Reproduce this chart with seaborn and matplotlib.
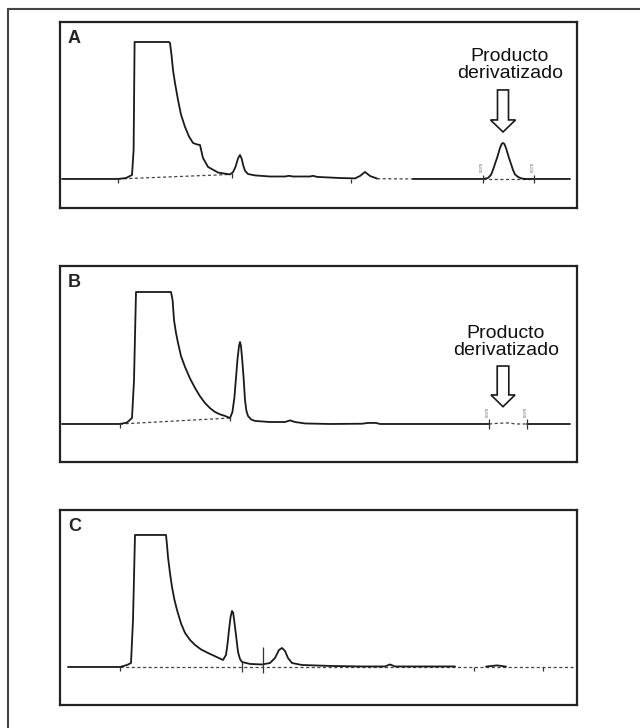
import pandas as pd
import matplotlib.pyplot as plt
import seaborn as sns
from matplotlib.patches import FancyArrow
from matplotlib.lines import Line2D

sns.set_style("white")
plt.rcParams["font.family"] = ["Liberation Sans", "DejaVu Sans"]

# Chromatogram A (time in arbitrary min units, signal in % of saturated peak)
time_a = [0.1, 2.9, 3.3, 3.6, 3.68, 3.73, 5.45, 5.5, 5.58, 5.65, 5.75, 5.9, 6.05, 6.25, 6.45,
          6.65, 6.85, 7.0, 7.15, 7.4, 7.9, 8.5, 8.65, 8.78, 8.9, 9.0, 9.08, 9.16, 9.25, 9.4,
          9.75, 10.5, 11.25, 11.45, 11.65, 12.5, 12.65, 12.85, 14.0, 14.75, 15.0, 15.25, 15.5, 15.85,
          17.65, 19.0, 21.15, 21.4, 21.55, 21.65, 21.75, 21.85, 22.0, 22.08, 22.15, 22.22, 22.3,
          22.45, 22.55, 22.65, 22.75, 22.9, 23.05, 23.25, 25.5]
signal_a = [0, 0, 0.7, 2.9, 21, 100, 100, 99.3, 90, 79.6, 70, 57.7, 47, 38, 31,
            26.3, 25.2, 24.8, 15.3, 8.8, 4.7, 3.3, 5.0, 9, 15, 17.5, 15, 10, 6, 3.6,
            2.6, 1.8, 1.8, 2.3, 1.8, 1.8, 2.3, 1.5, 0.7, 0.4, 2.2, 5.1, 2.2, 0.3,
            0, 0, 0, 0.7, 3, 6.6, 11, 15.3, 22.6, 25.5, 26.3, 25.5, 22.6,
            15.3, 11, 6.6, 3.3, 1.5, 0.5, 0, 0]
segment_a = [0] * 44 + [1] * 21
dash_time_a = [2.9, 8.5, 15.85, 17.65, 21.15, 23.7]
dash_signal_a = [0, 3.3, 0.2, 0, 0, 0]
dash_seg_a = [0, 0, 1, 1, 2, 2]
ticks_a = [2.9, 8.6, 14.55, 21.15, 23.7]
tick_lo_a = [-3, 1, -3, -3, -3]
tick_hi_a = [0, 4.5, 0, 3, 3]
marks_a = [21.15, 23.7]

# Chromatogram B
time_b = [0.1, 3.0, 3.35, 3.6, 3.7, 3.8, 5.55, 5.63, 5.7, 5.8, 5.9, 6.05, 6.25, 6.5, 6.75,
          7.0, 7.25, 7.5, 7.75, 8.0, 8.25, 8.5, 8.62, 8.72, 8.8, 8.88, 8.95, 9.0, 9.05, 9.12,
          9.18, 9.25, 9.32, 9.4, 9.55, 9.75, 10.5, 11.25, 11.5, 11.75, 12.25, 13.5, 15.1, 15.4,
          15.8, 16.0, 21.45, 23.35, 25.5]
signal_b = [0, 0, 1.1, 4.5, 33, 100, 100, 93.9, 78.8, 69, 61.4, 51.5, 43.2, 34.5, 27.3,
            21, 15.9, 12, 9.1, 7.3, 6.1, 4.5, 9, 20, 35, 50, 59, 62.1, 59, 47,
            35, 18.2, 10, 6.1, 3.5, 2.3, 1.5, 1.5, 2.7, 1.5, 0.4, 0, 0.2, 0.8,
            0.8, 0, 0, 0, 0]
segment_b = [0] * 47 + [1] * 2
dash_time_b = [3.0, 8.5, 21.45, 22.0, 22.4, 22.8, 23.35]
dash_signal_b = [0, 4.5, 0, 0.6, 0.8, 0, 0]
dash_seg_b = [0, 0, 1, 1, 1, 1, 1]
ticks_b = [3.0, 8.5, 21.45, 23.35]
tick_lo_b = [-3, 2.5, -4, -4]
tick_hi_b = [0, 6, 4, 4]
marks_b = [21.45, 23.35]

# Chromatogram C
time_c = [0.4, 3.0, 3.35, 3.55, 3.65, 3.75, 5.3, 5.35, 5.4, 5.5, 5.6, 5.72, 5.85, 6.05, 6.25,
          6.5, 6.75, 7.05, 7.4, 7.8, 8.15, 8.3, 8.38, 8.45, 8.53, 8.6, 8.66, 8.72, 8.8, 8.9,
          9.0, 9.1, 9.5, 10.1, 10.5, 10.75, 10.95, 11.1, 11.25, 11.4, 11.6, 12.1, 13.5, 15.0,
          16.25, 16.5, 16.75, 19.75, 21.3, 21.85, 22.3]
signal_c = [0, 0, 1.5, 3.0, 35.6, 100, 100, 92.4, 83.3, 71, 60.6, 51, 43.2, 33, 25.8,
            20.5, 16.7, 13.3, 10.6, 7.8, 5.3, 9.1, 18, 28, 38, 42.4, 41, 34, 24.2, 11.4,
            6, 3.8, 2.3, 1.9, 3.0, 6.8, 12.9, 14.4, 12.1, 6.8, 3.0, 1.5, 0.8, 0.4,
            0.4, 1.9, 0.4, 0.4, 0.3, 1.2, 0.3]
segment_c = [0] * 48 + [1] * 3
dash_time_c = [3.0, 25.85]
dash_signal_c = [0, 0]
dash_seg_c = [0, 0]
ticks_c = [3.0, 9.1, 10.15, 20.7, 24.15]
tick_lo_c = [-3, -3.8, -4.5, -3, -3]
tick_hi_c = [0, 3.8, 15.2, 0, 0]
marks_c = []

panels = [
    dict(label="A", t=time_a, s=signal_a, seg=segment_a, dt=dash_time_a, ds=dash_signal_a,
         dseg=dash_seg_a, ticks=ticks_a, lo=tick_lo_a, hi=tick_hi_a, marks=marks_a,
         rect=[60 / 640, 1 - 208 / 728, 517 / 640, 186 / 728], ylim=(-21.2, 114.6),
         arrow=(22.15, 65, 30.7, 0.55, 1.25, 8.8), text=(22.5, 83.2)),
    dict(label="B", t=time_b, s=signal_b, seg=segment_b, dt=dash_time_b, ds=dash_signal_b,
         dseg=dash_seg_b, ticks=ticks_b, lo=tick_lo_b, hi=tick_hi_b, marks=marks_b,
         rect=[60 / 640, 1 - 462 / 728, 517 / 640, 196 / 728], ylim=(-28.8, 119.7),
         arrow=(22.15, 43.9, 30.8, 0.58, 1.2, 8.9), text=(22.3, 62.1)),
    dict(label="C", t=time_c, s=signal_c, seg=segment_c, dt=dash_time_c, ds=dash_signal_c,
         dseg=dash_seg_c, ticks=ticks_c, lo=tick_lo_c, hi=tick_hi_c, marks=marks_c,
         rect=[60 / 640, 1 - 705 / 728, 517 / 640, 195 / 728], ylim=(-28.8, 118.9),
         arrow=None, text=None),
]

fig = plt.figure(figsize=(6.4, 7.28), dpi=100)

# outer frame (top and left edges only)
fig.add_artist(Line2D([8 / 640, 1], [1 - 9 / 728, 1 - 9 / 728], transform=fig.transFigure,
                      color="#444444", lw=1.5))
fig.add_artist(Line2D([8 / 640, 8 / 640], [0, 1 - 9 / 728], transform=fig.transFigure,
                      color="#444444", lw=1.5))

for p in panels:
    ax = fig.add_axes(p["rect"])
    trace = pd.DataFrame({"t": p["t"], "s": p["s"], "seg": p["seg"]})
    base = pd.DataFrame({"t": p["dt"], "s": p["ds"], "seg": p["dseg"]})
    sns.lineplot(data=base, x="t", y="s", units="seg", estimator=None, sort=False,
                 color="#444444", lw=0.9, linestyle=(0, (2.5, 2)), ax=ax)
    sns.lineplot(data=trace, x="t", y="s", units="seg", estimator=None, sort=False,
                 color="#1a1a1a", lw=1.3, ax=ax)
    ax.vlines(p["ticks"], p["lo"], p["hi"], color="#333333", lw=0.9)
    for m in p["marks"]:
        ax.text(m - 0.05, 5, "0.070", rotation=90, fontsize=3, color="#555555",
                ha="center", va="bottom")
    if p["arrow"] is not None:
        x, top, length, w, hw, hl = p["arrow"]
        ax.add_patch(FancyArrow(x, top, 0, -length, width=w, head_width=hw, head_length=hl,
                                length_includes_head=True, fc="white", ec="#1a1a1a", lw=1.2))
        tx, ty = p["text"]
        ax.text(tx, ty, "Producto\nderivatizado", ha="center", va="center", fontsize=14,
                linespacing=1.0, color="#111111")
    ax.text(8 / 517, 1 - 8 / (p["rect"][3] * 728), p["label"], transform=ax.transAxes,
            fontsize=13, fontweight="bold", ha="left", va="top")
    ax.set_xlim(0, 25.85)
    ax.set_ylim(*p["ylim"])
    ax.set_xticks([])
    ax.set_yticks([])
    ax.set_xlabel("")
    ax.set_ylabel("")
    for sp in ax.spines.values():
        sp.set_visible(True)
        sp.set_color("#222222")
        sp.set_linewidth(1.6)

fig.savefig("out.png", dpi=100)
